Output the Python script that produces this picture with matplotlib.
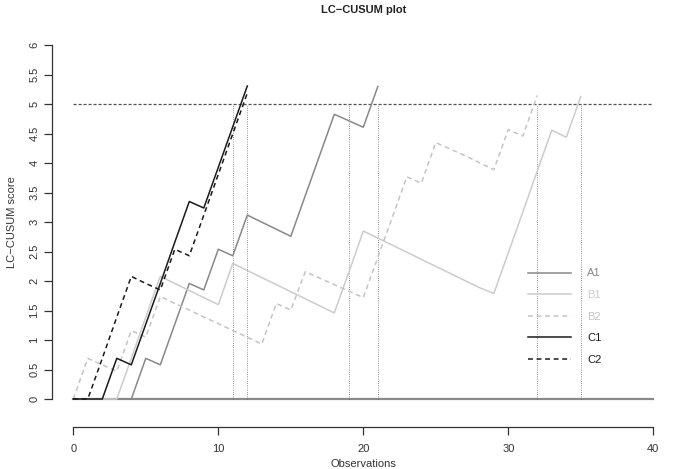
import matplotlib
matplotlib.use("Agg")
import matplotlib.pyplot as plt

plt.rcParams['font.family'] = ['Liberation Sans', 'DejaVu Sans']

a1 = [0, 0, 0, 0, 0, 0.69, 0.58, 1.27, 1.96, 1.85, 2.54, 2.43, 3.12, 3.00,
      2.88, 2.76, 3.45, 4.14, 4.83, 4.72, 4.61, 5.30]
b1 = [0, 0, 0, 0, 0.69, 1.39, 2.08, 1.96, 1.84, 1.72, 1.60, 2.30, 2.18, 2.06,
      1.94, 1.82, 1.70, 1.58, 1.46, 2.15, 2.85, 2.73, 2.61, 2.49, 2.37, 2.25,
      2.13, 2.01, 1.89, 1.79, 2.48, 3.17, 3.87, 4.56, 4.44, 5.13]
b2 = [0, 0.69, 0.58, 0.47, 1.16, 1.05, 1.74, 1.62, 1.51, 1.39, 1.28, 1.16,
      1.05, 0.93, 1.62, 1.51, 2.16, 2.05, 1.94, 1.83, 1.72, 2.40, 3.08, 3.77,
      3.66, 4.35, 4.24, 4.13, 4.01, 3.89, 4.57, 4.46, 5.15]
c1 = [0, 0, 0, 0.69, 0.58, 1.27, 1.96, 2.66, 3.35, 3.24, 3.93, 4.62, 5.31]
c2 = [0, 0, 0.69, 1.39, 2.08, 1.96, 1.85, 2.54, 2.43, 3.12, 3.81, 4.50, 5.19]

series_names = ["A1", "B1", "B2", "C1", "C2"]
series_vals = [a1, b1, b2, c1, c2]
series_cols = ["#888888", "#cccccc", "#c4c4c4", "#1a1a1a", "#1a1a1a"]
series_dash = ["-", "-", "--", "-", "--"]

threshold = 5
signal_obs = [11, 12, 19, 21, 32, 35]
n_obs = 40

W, H = 677, 469
fig = plt.figure(figsize=(W / 100, H / 100), dpi=100)
x0, x1 = 73.3, 653.3
y0, y6 = 399.0, 45.3
ax = fig.add_axes([x0 / W, (H - y0) / H, (x1 - x0) / W, (y0 - y6) / H])
ax.set_xlim(0, n_obs)
ax.set_ylim(0, 6)

# zero baseline and threshold
ax.plot([0, n_obs], [0, 0], color="#8a8a8a", lw=1.6, clip_on=False, zorder=1)
ax.plot([0, n_obs], [threshold, threshold], color="#555555", lw=0.9,
        dashes=(2.5, 1.5), clip_on=False)
for s in signal_obs:
    ax.plot([s, s], [0, threshold], color="#666666", lw=0.7,
            dashes=(0.7, 1.6), clip_on=False)

for name, vals, col, ls in zip(series_names, series_vals, series_cols, series_dash):
    xs = list(range(len(vals)))
    if ls == "--":
        ax.plot(xs, vals, color=col, lw=1.1, dashes=(3.2, 2.4), label=name,
                clip_on=False, zorder=3)
    else:
        ax.plot(xs, vals, color=col, lw=1.1, label=name, clip_on=False, zorder=3)

leg = ax.legend(loc="upper left", bbox_to_anchor=((528 - x0) / (x1 - x0), (y0 - 268.5) / (y0 - y6)),
                frameon=False, fontsize=8, handlelength=3.9, handletextpad=1.4,
                labelspacing=1.04, borderaxespad=0, borderpad=0)
for txt, col in zip(leg.get_texts(), series_cols):
    txt.set_color(col)

for sp in ["top", "right"]:
    ax.spines[sp].set_visible(False)
ax.spines["left"].set_position(("outward", 15.5))
ax.spines["bottom"].set_position(("outward", 20.2))
ax.spines["left"].set_bounds(0, 6)
ax.spines["bottom"].set_bounds(0, n_obs)
for sp in ["left", "bottom"]:
    ax.spines[sp].set_color("#333333")
    ax.spines[sp].set_linewidth(0.9)

yt = [0, 0.5, 1, 1.5, 2, 2.5, 3, 3.5, 4, 4.5, 5, 5.5, 6]
ax.set_yticks(yt)
ax.set_yticklabels([("%g" % v) for v in yt], rotation=90, va="center")
ax.set_xticks([0, 10, 20, 30, 40])
ax.tick_params(axis="both", length=5.5, width=0.9, color="#333333",
               labelsize=8, labelcolor="#333333")
ax.tick_params(axis="y", pad=3.5)
ax.tick_params(axis="x", pad=7)

ax.set_xlabel("Observations", fontsize=8, color="#333333", labelpad=3)
ax.set_ylabel("LC\u2212CUSUM score", fontsize=8, color="#333333", labelpad=9)
fig.text((x0 + x1) / 2 / W, 1 - 10 / H, "LC\u2212CUSUM plot", ha="center",
         va="center", fontsize=8, fontweight="bold", color="#222222")

fig.savefig("out.png", dpi=100)
